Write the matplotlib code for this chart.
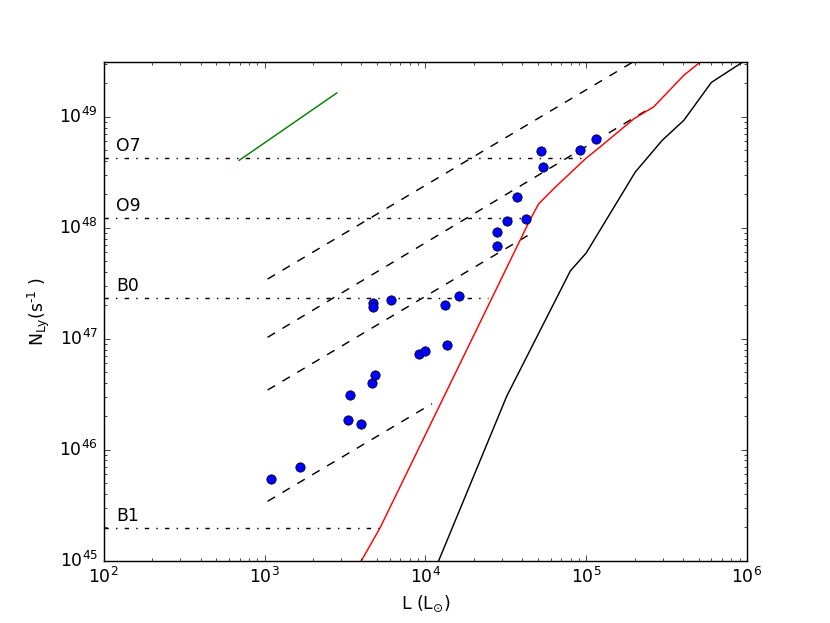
import matplotlib
matplotlib.use('Agg')
import matplotlib.pyplot as plt

plt.style.use('classic')
plt.rcParams['mathtext.fontset'] = 'dejavusans'

# observed sources
lum = [1097, 1660, 3304, 3963, 3388, 4667, 4890, 9120, 1.00e4, 1.37e4,
       4753, 4753, 6124, 1.32e4, 1.62e4, 2.77e4, 2.77e4, 3.24e4, 4.20e4,
       3.73e4, 5.26e4, 5.41e4, 9.2e4, 1.15e5]
nly = [5.40e45, 7.06e45, 1.87e46, 1.70e46, 3.14e46, 4.0e46, 4.72e46, 7.26e46,
       7.83e46, 8.81e46, 2.08e47, 1.92e47, 2.22e47, 2.02e47, 2.43e47, 9.18e47,
       6.87e47, 1.15e48, 1.20e48, 1.88e48, 4.92e48, 3.50e48, 4.98e48, 6.27e48]

# ZAMS curve (red)
zams_l = [4.0e3, 5.22e3, 4.50e4, 5.06e4, 6.28e4, 9.9e4, 1.22e5, 1.98e5,
          2.63e5, 4.05e5, 5.27e5]
zams_n = [1.0e45, 1.97e45, 1.20e48, 1.64e48, 2.25e48, 4.19e48, 5.35e48,
          9.6e48, 1.23e49, 2.37e49, 3.22e49]

# black curve
blk_l = [1.21e4, 3.21e4, 7.98e4, 9.98e4, 2.02e5, 2.97e5, 4.05e5, 6.0e5, 1.0e6]
blk_n = [1.0e45, 3.05e46, 4.1e47, 5.9e47, 3.18e48, 6.14e48, 9.3e48, 2.04e49, 3.3e49]

# green segment
grn_l = [695, 2813]
grn_n = [4.05e48, 1.64e49]

# dashed lines (start, end)
dash_l = [[1044, 2.0e5], [1044, 2.34e5], [1044, 4.32e4], [1044, 1.1e4]]
dash_n = [[3.45e47, 3.18e49], [1.03e47, 1.13e49], [3.45e46, 8.5e47], [3.43e45, 2.6e46]]

# spectral types
sp_names = ['O7', 'O9', 'B0', 'B1']
sp_nly = [4.26e48, 1.22e48, 2.33e47, 1.96e45]
sp_lend = [9.6e4, 4.5e4, 2.46e4, 5.2e3]

fig = plt.figure(figsize=(8, 6.005), dpi=103.75)
ax = fig.add_subplot(111)

for xs, ys in zip(dash_l, dash_n):
    ax.plot(xs, ys, 'k--')

for name, n, le in zip(sp_names, sp_nly, sp_lend):
    ax.plot([100, le], [n, n], 'k-.')
    ax.text(120, n * 1.07, name, fontsize=12, ha='left', va='bottom')

ax.plot(grn_l, grn_n, 'g-')
ax.plot(zams_l, zams_n, 'r-')
ax.plot(blk_l, blk_n, 'k-')
ax.plot(lum, nly, 'bo', markersize=6.5)

ax.set_xscale('log')
ax.set_yscale('log')
ax.set_xlim(1e2, 1e6)
ax.set_ylim(1e45, 3.1e49)
ax.set_xlabel(r'L (L$_{\odot}$)')
ax.set_ylabel(r'N$_{\mathregular{Ly}}$(s$^{\text{-1}}$ )')

fig.savefig('out.png', dpi=103.75)
